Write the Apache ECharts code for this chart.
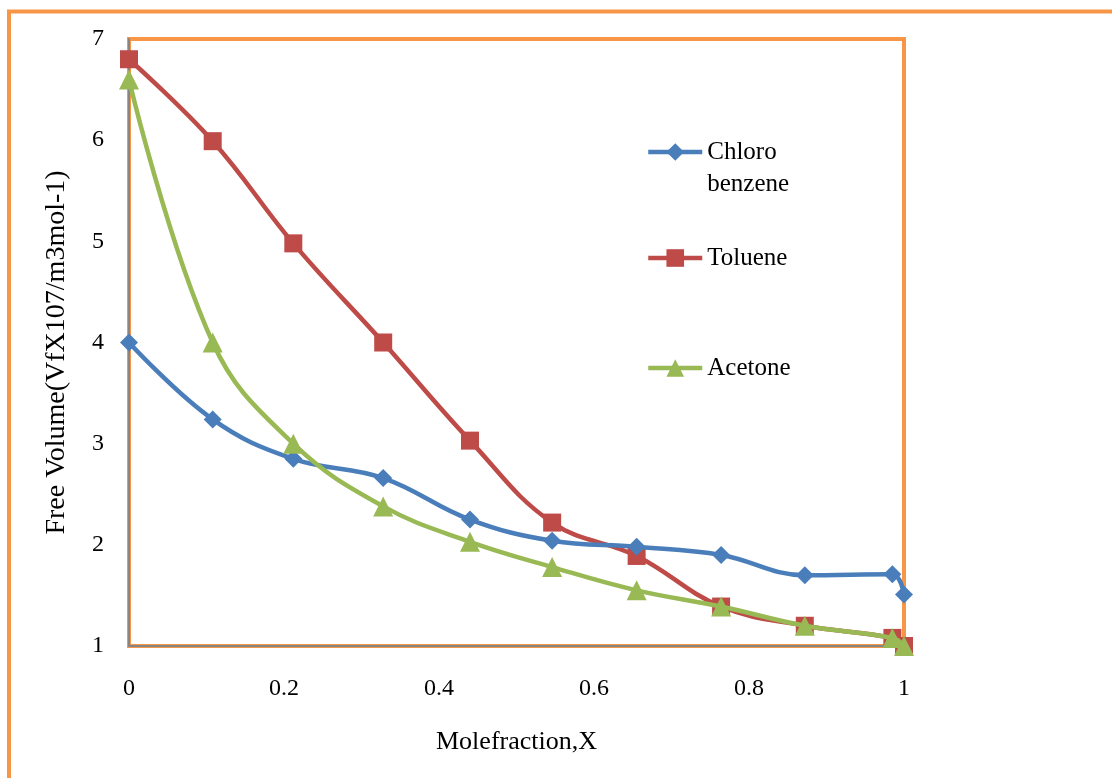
<!DOCTYPE html>
<html>
<head>
<meta charset="utf-8">
<script src="https://cdn.jsdelivr.net/npm/echarts@6/dist/echarts.min.js"></script>
<style>
html,body{margin:0;padding:0;background:#fff;}
#chart{width:1112px;height:778px;}
</style>
</head>
<body>
<div id="chart"></div>
<script>
const xValues = [0, 0.108, 0.212, 0.328, 0.44, 0.546, 0.655, 0.764, 0.872, 0.985, 1.0];
const chloroBenzene = [4.0, 3.24, 2.85, 2.66, 2.25, 2.04, 1.98, 1.90, 1.70, 1.71, 1.51];
const toluene = [6.80, 5.99, 4.98, 4.0, 3.03, 2.22, 1.89, 1.39, 1.20, 1.08, 1.0];
const acetone = [6.60, 4.0, 3.0, 2.38, 2.03, 1.78, 1.55, 1.39, 1.20, 1.08, 1.0];
const seriesNames = ['Chloro benzene', 'Toluene', 'Acetone'];
const xTicks = [0, 0.2, 0.4, 0.6, 0.8, 1];
const yTicks = [1, 2, 3, 4, 5, 6, 7];

const pair = arr => arr.map((v, i) => [xValues[i], v]);
const font = 'Liberation Serif';
const chart = echarts.init(document.getElementById('chart'));

function legendFor(name, top, extra) {
  return Object.assign({
    show: true, orient: 'vertical', left: 641, top: top,
    itemWidth: 54, itemHeight: 22, itemGap: 0,
    data: [name],
    selectedMode: false,
    lineStyle: { width: 4.5 },
    textStyle: { fontFamily: font, fontSize: 25, color: '#000', lineHeight: 32 }
  }, extra || {});
}

chart.setOption({
  animation: false,
  backgroundColor: '#fff',
  graphic: [{
    type: 'rect', shape: { x: 9, y: 11.5, width: 2000, height: 2000 },
    style: { fill: 'none', stroke: '#F79646', lineWidth: 4 }, z: -1
  }],
  grid: {
    left: 129, right: 208, top: 39, bottom: 132,
    show: true, borderColor: '#F79646', borderWidth: 4, backgroundColor: 'transparent'
  },
  legend: [
    legendFor(seriesNames[0], 99, { formatter: () => '\nChloro\nbenzene' }),
    legendFor(seriesNames[1], 237),
    legendFor(seriesNames[2], 347)
  ],
  xAxis: {
    type: 'value', min: 0, max: 1, interval: 0.2,
    name: 'Molefraction,X', nameLocation: 'middle', nameGap: 83,
    nameTextStyle: { fontFamily: font, fontSize: 26, color: '#000' },
    axisLine: { show: true, lineStyle: { color: '#868686', width: 2 } },
    axisTick: { show: false },
    splitLine: { show: false },
    axisLabel: {
      fontFamily: font, fontSize: 24, color: '#000', margin: 31,
      formatter: v => xTicks.includes(+v.toFixed(1)) ? String(+v.toFixed(1)) : ''
    }
  },
  yAxis: {
    type: 'value', min: 1, max: 7, interval: 1,
    name: 'Free Volume(VfX107/m3mol-1)', nameLocation: 'middle', nameGap: 58,
    nameTextStyle: { fontFamily: font, fontSize: 28, color: '#000', padding: [0, 20, 0, 0] },
    axisLine: { show: true, lineStyle: { color: '#868686', width: 2 } },
    axisTick: { show: false },
    splitLine: { show: false },
    axisLabel: {
      fontFamily: font, fontSize: 24, color: '#000', margin: 25,
      formatter: v => yTicks.includes(v) ? String(v) : ''
    }
  },
  series: [
    {
      name: seriesNames[0], type: 'line', data: pair(chloroBenzene), smooth: 0.4,
      symbol: 'diamond', symbolSize: 18,
      lineStyle: { color: '#4A7EBB', width: 4.5 },
      itemStyle: { color: '#4A7EBB' }, z: 3
    },
    {
      name: seriesNames[1], type: 'line', data: pair(toluene), smooth: 0.4,
      symbol: 'rect', symbolSize: 18,
      lineStyle: { color: '#BE4B48', width: 4.5 },
      itemStyle: { color: '#BE4B48' }, z: 2
    },
    {
      name: seriesNames[2], type: 'line', data: pair(acetone), smooth: 0.4,
      symbol: 'triangle', symbolSize: 20,
      lineStyle: { color: '#98B954', width: 4.5 },
      itemStyle: { color: '#98B954' }, z: 4
    }
  ]
});
</script>
</body>
</html>
